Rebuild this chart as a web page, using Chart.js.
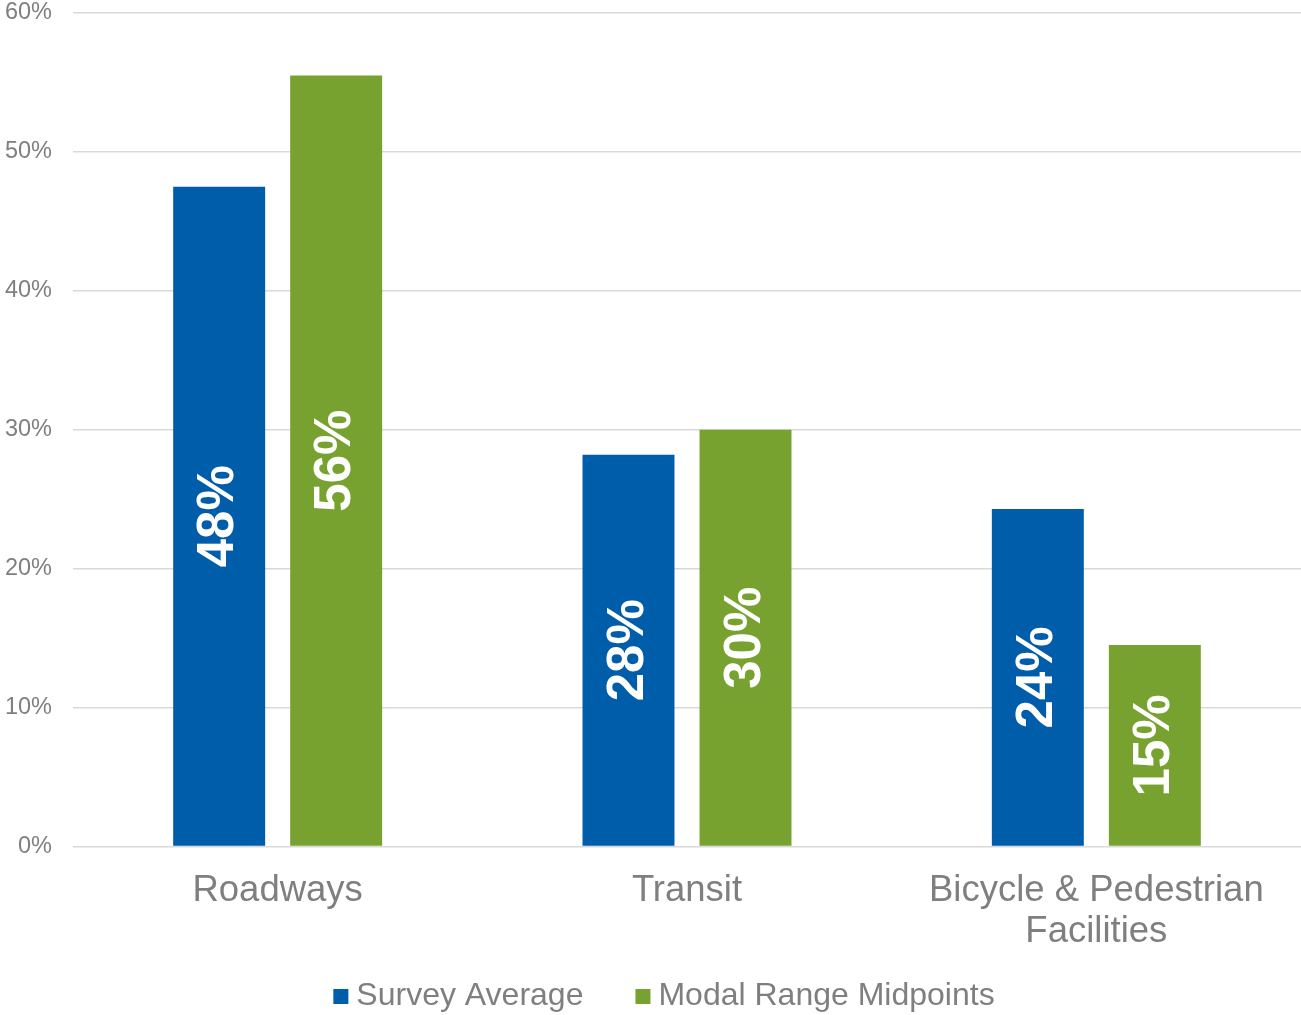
<!DOCTYPE html>
<html>
<head>
<meta charset="utf-8">
<script src="https://cdn.jsdelivr.net/npm/chart.js@4"></script>
<style>
  html, body { margin: 0; padding: 0; background: #ffffff; }
  #wrap { width: 1301px; height: 1015px; }
</style>
</head>
<body>
<div id="wrap"><canvas id="c" width="1301" height="1015"></canvas></div>
<script>
const categories = ["Roadways", "Transit", ["Bicycle & Pedestrian", "Facilities"]];
const seriesNames = ["Survey Average", "Modal Range Midpoints"];
const surveyAverage = [47.5, 28.2, 24.3];
const modalRangeMidpoints = [55.5, 30.0, 14.5];
const yTicks = [0, 10, 20, 30, 40, 50, 60];

const FONT = "'Liberation Sans', Arial, Helvetica, sans-serif";
const GRAY = '#7f7f7f';
const COLORS = ['#005DAA', '#78A22F'];

const barLabels = {
  id: 'barLabels',
  afterDatasetsDraw(chart) {
    const ctx = chart.ctx;
    ctx.save();
    ctx.fillStyle = '#ffffff';
    ctx.font = 'bold 51px ' + FONT;
    ctx.textAlign = 'center';
    ctx.textBaseline = 'middle';
    chart.data.datasets.forEach((ds, di) => {
      const meta = chart.getDatasetMeta(di);
      meta.data.forEach((bar, i) => {
        const v = ds.data[i];
        const cx = bar.x;
        const cy = (bar.y + bar.base) / 2;
        ctx.save();
        ctx.translate(cx, cy);
        ctx.rotate(-Math.PI / 2);
        ctx.fillText(Math.round(v) + '%', 0, 0);
        ctx.restore();
      });
    });
    ctx.restore();
  }
};

const customLegend = {
  id: 'customLegend',
  afterDraw(chart) {
    const ctx = chart.ctx;
    ctx.save();
    ctx.font = '32px ' + FONT;
    ctx.textBaseline = 'middle';
    ctx.textAlign = 'left';
    const box = 15, gapText = 8, gapItem = 52;
    const items = chart.data.datasets.map(ds => ({
      label: ds.label, color: ds.backgroundColor, w: ctx.measureText(ds.label).width
    }));
    let total = 0;
    items.forEach((it, i) => { total += box + gapText + it.w + (i < items.length - 1 ? gapItem : 0); });
    let x = chart.width / 2 + 13.5 - total / 2;
    const cy = chart.height - 18.5;
    items.forEach(it => {
      ctx.fillStyle = it.color;
      ctx.fillRect(x, cy - box / 2, box, box);
      x += box + gapText;
      ctx.fillStyle = GRAY;
      ctx.fillText(it.label, x, cy);
      x += it.w + gapItem;
    });
    ctx.restore();
  }
};

new Chart(document.getElementById('c'), {
  type: 'bar',
  data: {
    labels: categories,
    datasets: [
      { label: seriesNames[0], data: surveyAverage, backgroundColor: COLORS[0], borderWidth: 0 },
      { label: seriesNames[1], data: modalRangeMidpoints, backgroundColor: COLORS[1], borderWidth: 0 }
    ]
  },
  options: {
    responsive: false,
    animation: false,
    devicePixelRatio: 1,
    layout: { padding: { left: 0, right: 0, top: 0, bottom: 38 } },
    datasets: { bar: { categoryPercentage: 0.5717, barPercentage: 0.786 } },
    plugins: {
      legend: { display: false },
      tooltip: { enabled: false }
    },
    scales: {
      x: {
        grid: { display: false, drawTicks: false },
        border: { display: false },
        ticks: {
          color: GRAY,
          padding: 24,
          maxRotation: 0,
          autoSkip: false,
          font: { family: FONT, size: 36.5, lineHeight: 1.13 }
        }
      },
      y: {
        min: yTicks[0],
        max: yTicks[yTicks.length - 1],
        afterBuildTicks(scale) { scale.ticks = yTicks.map(v => ({ value: v })); },
        afterFit(scale) { scale.width = 73; scale.paddingTop = 13; scale.paddingBottom = 0; },
        grid: { color: '#d9d9d9', lineWidth: 1.5, drawTicks: false },
        border: { display: false },
        ticks: {
          color: GRAY,
          padding: 21,
          font: { family: FONT, size: 23.5, lineHeight: 1.1 },
          callback: v => v + '%'
        }
      }
    }
  },
  plugins: [barLabels, customLegend]
});
</script>
</body>
</html>
